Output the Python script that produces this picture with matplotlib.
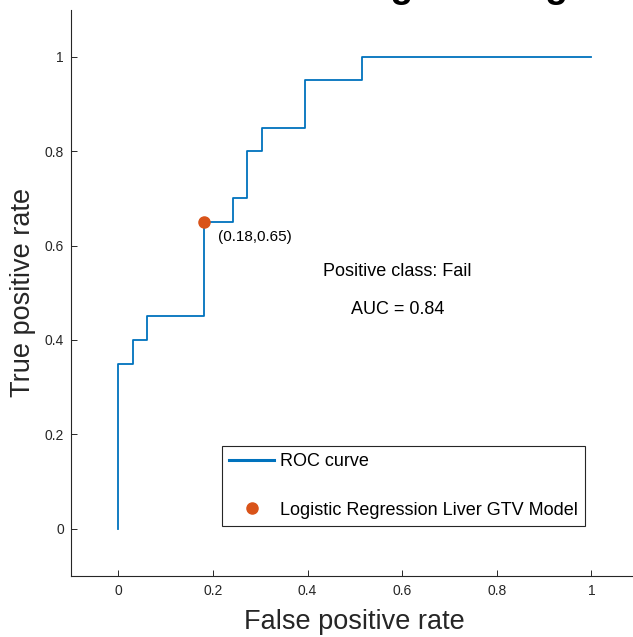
import numpy as np
import matplotlib
matplotlib.use('Agg')
import matplotlib.pyplot as plt
from matplotlib.lines import Line2D
from matplotlib.ticker import FormatStrFormatter

plt.rcParams['font.family'] = ['Liberation Sans', 'DejaVu Sans']

# ROC curve (staircase vertices)
fpr = [0, 0, 0.030, 0.030, 0.061, 0.061, 0.182, 0.182, 0.242, 0.242,
       0.273, 0.273, 0.303, 0.303, 0.394, 0.394, 0.515, 0.515, 1.0]
tpr = [0, 0.35, 0.35, 0.40, 0.40, 0.45, 0.45, 0.65, 0.65, 0.70,
       0.70, 0.80, 0.80, 0.85, 0.85, 0.95, 0.95, 1.0, 1.0]

# operating point of the model
op_x = [0.182]
op_y = [0.65]
op_label = "(0.18,0.65)"

ticks = [0, 0.2, 0.4, 0.6, 0.8, 1]
auc_text = "AUC = 0.84"
class_text = "Positive class: Fail"

blue = "#0072BD"
orange = "#D95319"
axcol = "#262626"

fig = plt.figure(figsize=(6.33, 6.37), dpi=100)
ax = fig.add_axes([0.1122, 0.0958, 0.8967, 0.8892])

ax.plot(fpr, tpr, color=blue, lw=1.3)
ax.plot(op_x, op_y, "o", color=orange, ms=8, mec=orange)
ax.annotate(op_label, (op_x[0], op_y[0]), xytext=(9.5, -10.5), textcoords="offset points",
            ha="left", va="center", fontsize=11)

ax.text(0.59, 0.545, class_text, ha="center", va="center", fontsize=13)
ax.text(0.59, 0.465, auc_text, ha="center", va="center", fontsize=13)

ax.set_xlim(-0.1, 1.1)
ax.set_ylim(-0.1, 1.1)
ax.set_xticks(ticks)
ax.set_yticks(ticks)
ax.xaxis.set_major_formatter(FormatStrFormatter('%g'))
ax.yaxis.set_major_formatter(FormatStrFormatter('%g'))

for s in ["top", "right"]:
  ax.spines[s].set_visible(False)
for s in ["left", "bottom"]:
  ax.spines[s].set_color(axcol)
  ax.spines[s].set_linewidth(0.8)

ax.tick_params(direction="in", length=4.5, width=0.7, colors=axcol, labelsize=10)
ax.tick_params(axis="x", pad=6)
ax.tick_params(axis="y", pad=5)

ax.set_xlabel("False positive rate", fontsize=19.5, color=axcol, va="center")
ax.set_ylabel("True positive rate", fontsize=19.5, color=axcol, va="center")
ax.xaxis.set_label_coords(0.5, -0.081)
ax.yaxis.set_label_coords(-0.084, 0.5)

handles = [Line2D([], [], color=blue, lw=2.2),
           Line2D([], [], ls="none", marker="o", color=orange, ms=8)]
leg = ax.legend(handles, ["ROC curve", "Logistic Regression Liver GTV Model"],
                loc="upper left", bbox_to_anchor=(0.266, 0.2295), borderaxespad=0,
                fontsize=13, handlelength=2.5, handletextpad=0.3, labelspacing=1.75,
                borderpad=0.4, fancybox=False, framealpha=1, edgecolor=axcol)
leg.get_frame().set_linewidth(0.8)

# title sits mostly above the canvas, only the descenders show
fig.text(345 / 633, 1 + 2.8 / 637, "Logistic Regression", fontsize=26.7,
         fontweight="bold", ha="left", va="baseline")

plt.savefig("out.png", dpi=100)
